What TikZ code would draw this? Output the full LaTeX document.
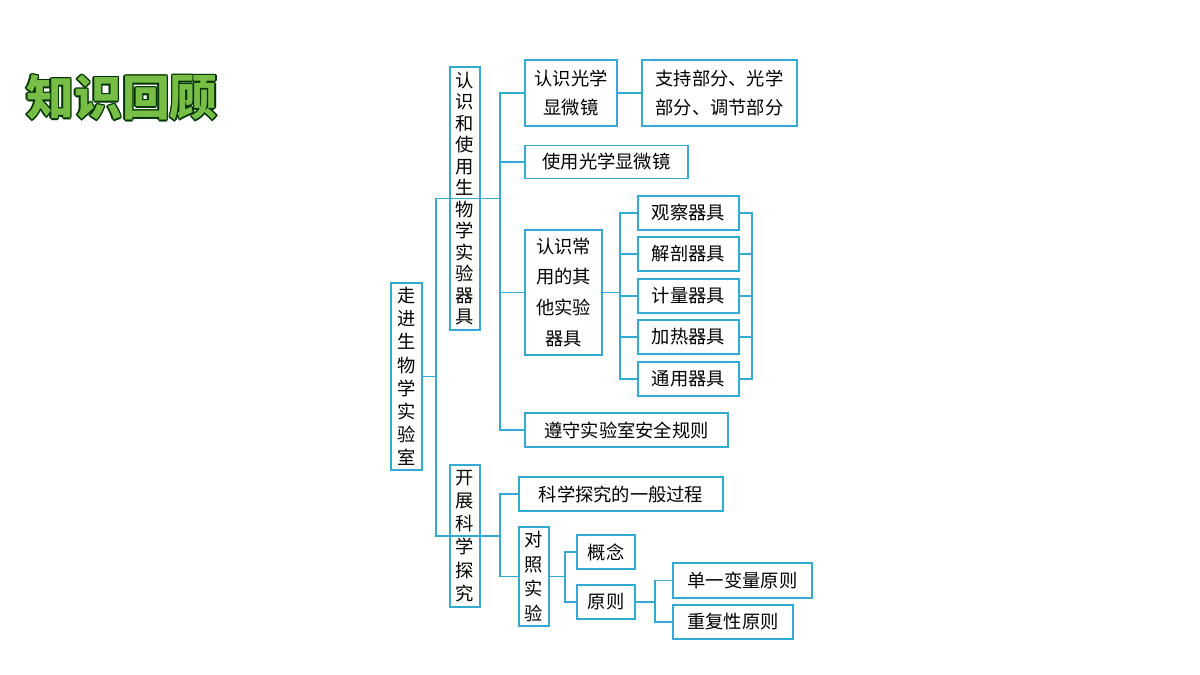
\documentclass[tikz,border=0pt]{standalone}
\usepackage{fontspec}
\newfontfamily\cjk{Noto Sans CJK SC}
\definecolor{mapline}{RGB}{52,170,210}
\definecolor{titlegreen}{RGB}{120,190,70}
\begin{document}
\begin{tikzpicture}[x=0.025cm,y=-0.025cm,
    box/.style={draw=mapline,line width=1.1pt,inner sep=0pt,font=\cjk\fontsize{13}{20}\selectfont,align=center},
    vbox/.style={box,font=\cjk\fontsize{13}{#1}\selectfont},
    link/.style={draw=mapline,line width=1.1pt}]
  \useasboundingbox (0,0) rectangle (1200,675);
  % title
  \foreach \dx/\dy in {-1/-1,-1/1,1/-1,1/1,0/-1.4,0/1.4,-1.4/0,1.4/0}
    \node[font=\cjk\bfseries\fontsize{34}{40}\selectfont,text=black!80!green] at (122+\dx,98+\dy) {知识回顾};
  \node[font=\cjk\bfseries\fontsize{34}{40}\selectfont,text=titlegreen] (title) at (122,98) {知识回顾};
  % level 1 and 2
  \node[vbox=16.5,minimum width=31*0.025cm,minimum height=187*0.025cm] (root) at (406.5,376.5) {走\\进\\生\\物\\学\\实\\验\\室};
  \node[vbox=15.3,minimum width=30*0.025cm,minimum height=263*0.025cm] (use) at (465,198.5) {认\\识\\和\\使\\用\\生\\物\\学\\实\\验\\器\\具};
  \node[vbox=16.5,minimum width=30*0.025cm,minimum height=142*0.025cm] (sci) at (465,536) {开\\展\\科\\学\\探\\究};
  % microscopes and tools
  \node[box,minimum width=92*0.025cm,minimum height=66*0.025cm] (know) at (571,93) {认识光学\\显微镜};
  \node[box,minimum width=155*0.025cm,minimum height=66*0.025cm] (parts) at (719.5,93) {支持部分、光学\\部分、调节部分};
  \node[box,minimum width=163*0.025cm,minimum height=33*0.025cm] (handle) at (606.5,162) {使用光学显微镜};
  \node[box,minimum width=77*0.025cm,minimum height=125*0.025cm,font=\cjk\fontsize{13}{22}\selectfont] (other) at (563.5,292.5) {认识常\\用的其\\他实验\\器具};
  \node[box,minimum width=203*0.025cm,minimum height=34*0.025cm] (safe) at (626.5,430) {遵守实验室安全规则};
  \foreach \name/\txt/\y in {look/观察器具/213,cut/解剖器具/254,meas/计量器具/296,heat/加热器具/337,gen/通用器具/379}
    \node[box,minimum width=101*0.025cm,minimum height=34*0.025cm] (\name) at (688.5,\y) {\txt};
  % inquiry
  \node[box,minimum width=204*0.025cm,minimum height=34*0.025cm] (proc) at (621,494) {科学探究的一般过程};
  \node[vbox=17.5,minimum width=30*0.025cm,minimum height=99*0.025cm] (ctrl) at (534,576.5) {对\\照\\实\\验};
  \node[box,minimum width=58*0.025cm,minimum height=34*0.025cm] (idea) at (606,552) {概念};
  \node[box,minimum width=58*0.025cm,minimum height=34*0.025cm] (rule) at (606,602) {原则};
  \node[box,minimum width=139*0.025cm,minimum height=35*0.025cm] (single) at (742.5,580.5) {单一变量原则};
  \node[box,minimum width=120*0.025cm,minimum height=34*0.025cm] (repeat) at (733,622) {重复性原则};
  % connectors
  \coordinate (r1) at (436,376.5);
  \draw[link] (root.east) -- (r1) (r1) |- (use.east) (r1) |- (sci.east);
  \coordinate (u1) at (500,198.5);
  \draw[link] (use.east) -- (u1);
  \foreach \n in {know,handle,other,safe} \draw[link] (u1) |- (\n.west);
  \draw[link] (know) -- (parts);
  \coordinate (o1) at (620,292.5);
  \coordinate (o2) at (752,296);
  \draw[link] (other.east) -- (o1);
  \foreach \n in {look,cut,meas,heat,gen} {
    \draw[link] (o1) |- (\n.west);
    \draw[link] (o2) |- (\n.east);
  }
  \coordinate (s1) at (500,536);
  \draw[link] (sci.east) -- (s1) (s1) |- (proc.west) (s1) |- (ctrl.west);
  \coordinate (c1) at (565,576.5);
  \draw[link] (ctrl.east) -- (c1) (c1) |- (idea.west) (c1) |- (rule.west);
  \coordinate (p1) at (655,602);
  \draw[link] (rule.east) -- (p1) (p1) |- (single.west) (p1) |- (repeat.west);
\end{tikzpicture}
\end{document}
